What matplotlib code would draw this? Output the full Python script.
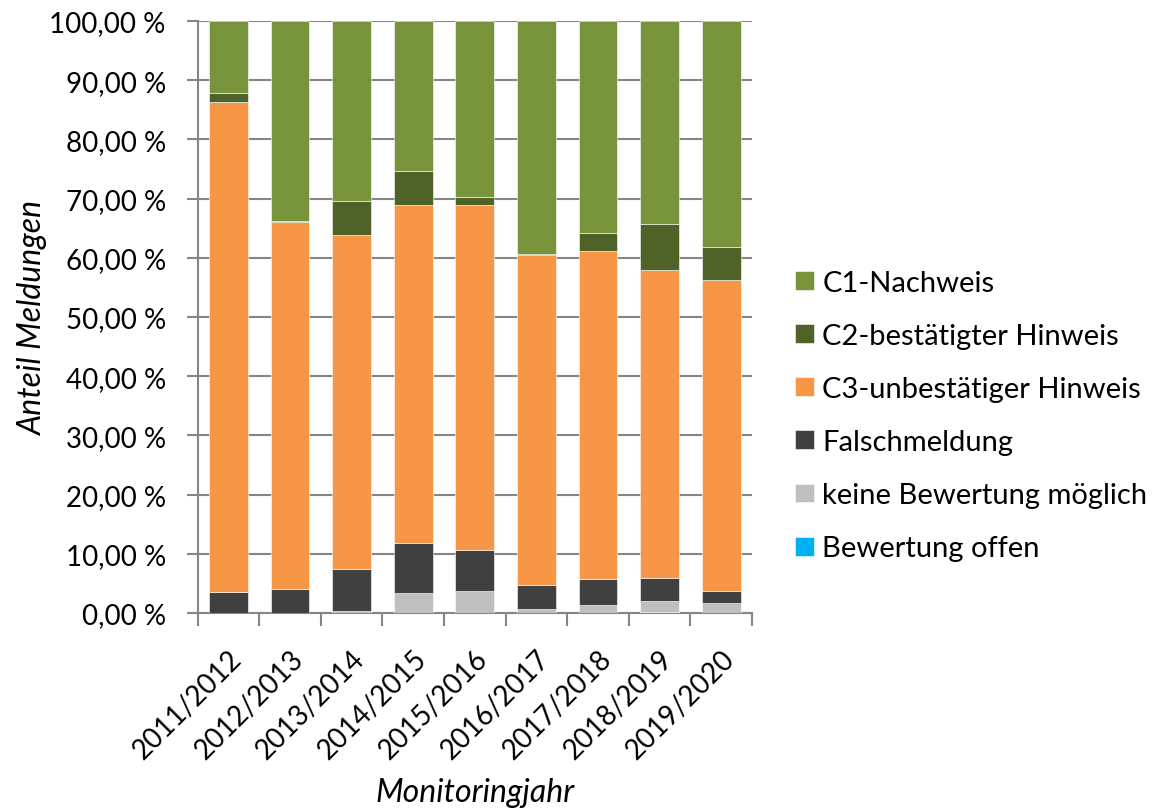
import matplotlib.pyplot as plt
import numpy as np
from matplotlib.ticker import FuncFormatter, FixedLocator

plt.rcParams['font.family'] = ['Lato', 'DejaVu Sans']

# Monitoringjahre und Anteile je Bewertungskategorie (in %)
jahre = ['2011/2012', '2012/2013', '2013/2014', '2014/2015', '2015/2016',
         '2016/2017', '2017/2018', '2018/2019', '2019/2020']
offen = [0.0, 0.0, 0.0, 0.0, 0.0, 0.0, 0.0, 0.2, 0.0]
keine = [0.0, 0.0, 0.4, 3.3, 3.8, 0.6, 1.4, 1.8, 1.74]
falsch = [3.5, 4.05, 7.1, 8.6, 6.9, 4.1, 4.3, 3.9, 2.06]
c3 = [82.8, 62.05, 56.3, 57.1, 58.2, 55.8, 55.4, 52.1, 52.4]
c2 = [1.6, 0.15, 5.8, 5.7, 1.4, 0.15, 3.1, 7.7, 5.7]
c1 = [12.1, 33.75, 30.4, 25.3, 29.7, 39.35, 35.8, 34.3, 38.1]

serien = [
    ('Bewertung offen', offen, '#00B0F0'),
    ('keine Bewertung möglich', keine, '#BFBFBF'),
    ('Falschmeldung', falsch, '#404040'),
    ('C3-unbestätiger Hinweis', c3, '#F79646'),
    ('C2-bestätigter Hinweis', c2, '#4F6228'),
    ('C1-Nachweis', c1, '#77933C'),
]

fig = plt.figure(figsize=(11.63, 8.12), dpi=100)
ax = fig.add_axes([0.170, 0.2438, 0.4766, 0.7291])

x = np.arange(len(jahre))
unten = np.zeros(len(jahre))
handles = []
for name, werte, farbe in serien:
    b = ax.bar(x, werte, 0.63, bottom=unten, color=farbe, label=name,
               edgecolor='white', linewidth=0.4, zorder=3)
    handles.append(b)
    unten += np.array(werte)

ax.set_xlim(-0.5, len(jahre) - 0.5)
ax.set_ylim(0, 100)
ax.set_yticks(np.arange(0, 101, 10))
ax.yaxis.set_major_formatter(FuncFormatter(lambda v, p: f'{v:.2f} %'.replace('.', ',')))
ax.grid(axis='y', color='#868686', linewidth=1.5, zorder=0)

ax.set_xticks(x)
ax.set_xticklabels(jahre, rotation=45, ha='right', rotation_mode='anchor', fontsize=20)
ax.xaxis.set_minor_locator(FixedLocator(np.arange(-0.5, len(jahre), 1)))
ax.tick_params(axis='x', which='major', length=0, pad=23)
ax.tick_params(axis='x', which='minor', length=9, width=1.5, color='#868686')
ax.tick_params(axis='y', length=8, width=1.5, color='#868686', labelsize=20, pad=15)

for s in ['top', 'right']:
    ax.spines[s].set_visible(False)
for s in ['left', 'bottom']:
    ax.spines[s].set_color('#868686')
    ax.spines[s].set_linewidth(1.5)

ax.set_ylabel('Anteil Meldungen', fontsize=23, style='italic', labelpad=1)
ax.set_xlabel('Monitoringjahr', fontsize=23, style='italic', labelpad=10)

fig.legend(handles[::-1], [s[0] for s in serien][::-1], loc='center left',
           bbox_to_anchor=(0.684, 0.487), frameon=False, fontsize=21,
           handlelength=0.62, handleheight=0.62, handletextpad=0.3,
           labelspacing=0.93, borderpad=0, borderaxespad=0)

fig.savefig('out.png', dpi=100)
